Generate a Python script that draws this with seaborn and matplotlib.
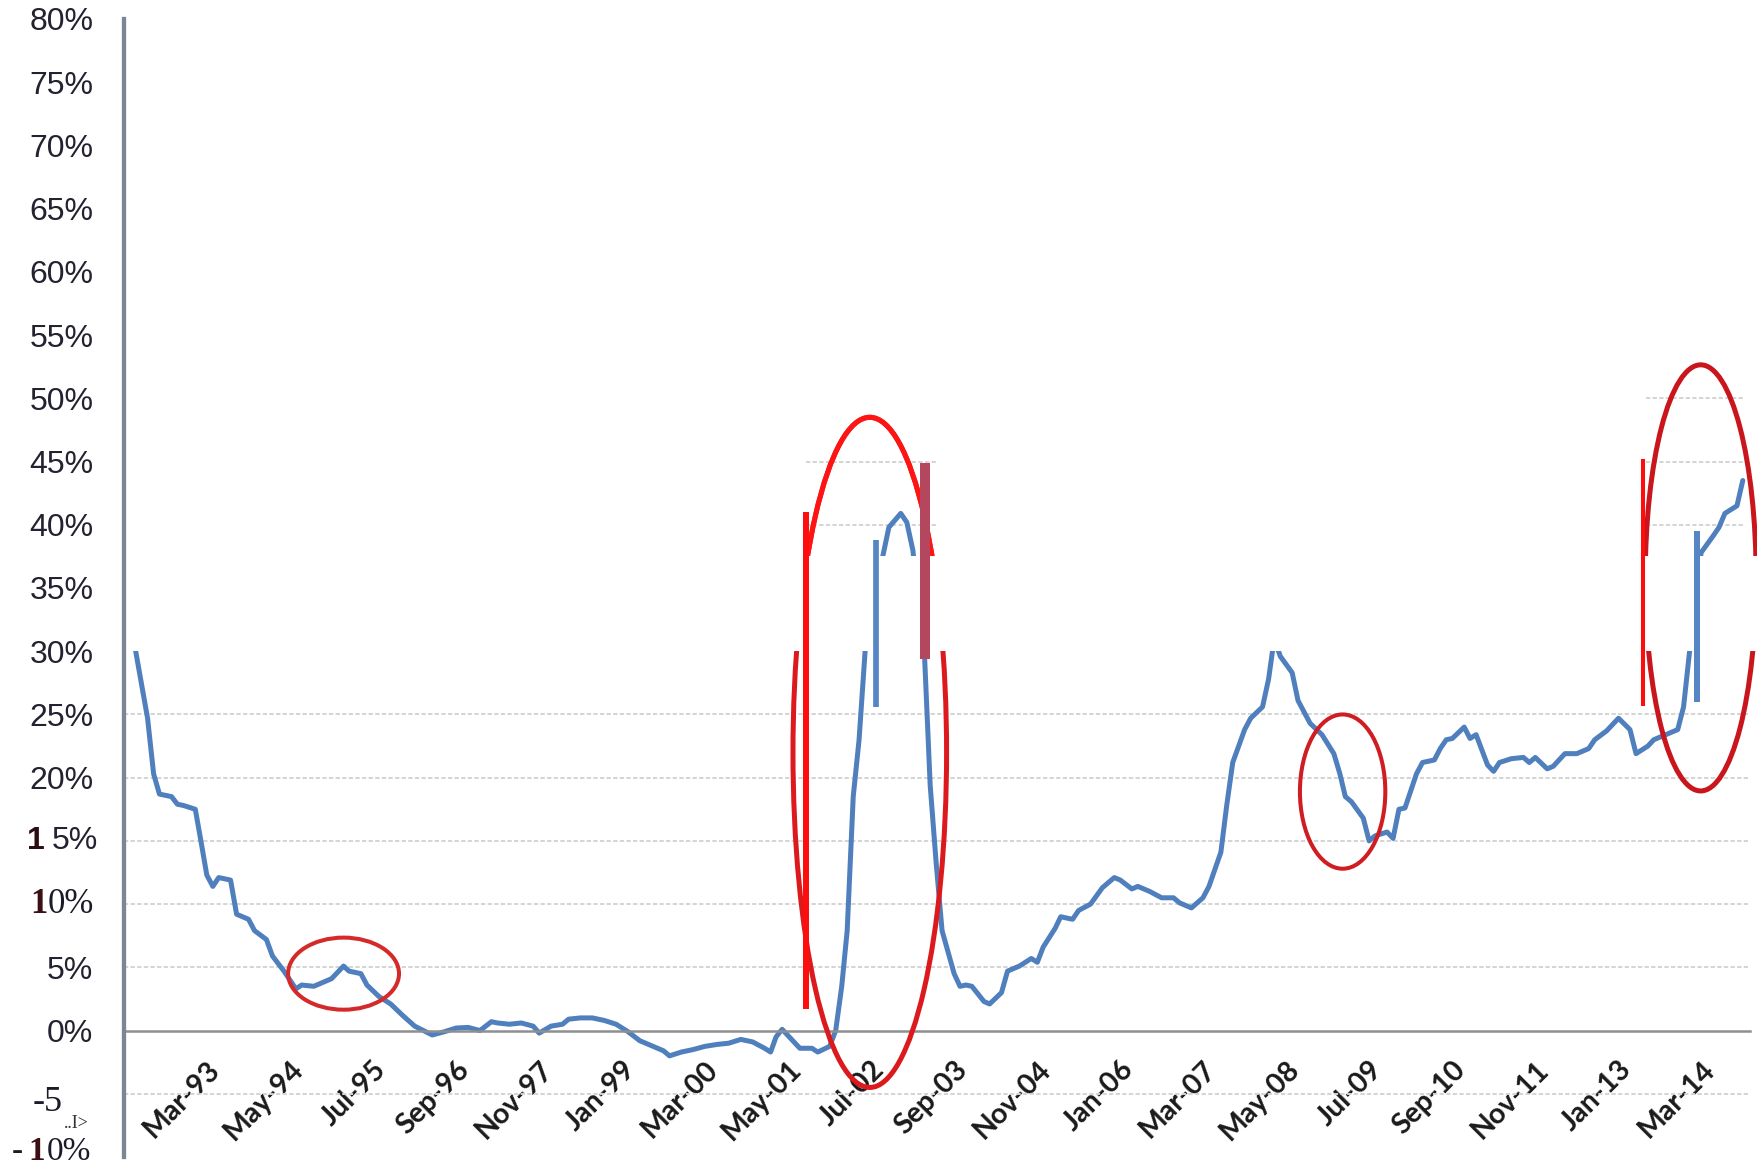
import numpy as np
import pandas as pd
import matplotlib
matplotlib.use("Agg")
import matplotlib.pyplot as plt
import matplotlib.dates as mdates
from matplotlib.patches import Ellipse, Rectangle
import seaborn as sns

# ---------------------------------------------------------------------------
# Series: year-on-year growth (%) by month
# ---------------------------------------------------------------------------
months = [
    "1992-03", "1992-05", "1992-06", "1992-07", "1992-09", "1992-10", "1992-11",
    "1993-01", "1993-02", "1993-03", "1993-04", "1993-05", "1993-07", "1993-08",
    "1993-10", "1993-11", "1994-01", "1994-02", "1994-04", "1994-06", "1994-07",
    "1994-09", "1994-10", "1994-12", "1995-02", "1995-03", "1995-05", "1995-06",
    "1995-08", "1995-10", "1995-12", "1996-02", "1996-05", "1996-07", "1996-09",
    "1996-11", "1997-01", "1997-03", "1997-04", "1997-06", "1997-08", "1997-10",
    "1997-11", "1998-01", "1998-03", "1998-04", "1998-06", "1998-08", "1998-10",
    "1998-12", "1999-02", "1999-04", "1999-06", "1999-08", "1999-09", "1999-11",
    "2000-01", "2000-03", "2000-05", "2000-07", "2000-09", "2000-11", "2001-01",
    "2001-02", "2001-03", "2001-04", "2001-06", "2001-07", "2001-09", "2001-10",
    "2001-12", "2002-01", "2002-02", "2002-03", "2002-04", "2002-05", "2002-06",
    "2002-07", "2002-09", "2002-10", "2002-12", "2003-01", "2003-02", "2003-03",
    "2003-04", "2003-05", "2003-06", "2003-07", "2003-09", "2003-10", "2003-11",
    "2003-12", "2004-02", "2004-03", "2004-05", "2004-06", "2004-08", "2004-10",
    "2004-11", "2004-12", "2005-02", "2005-03", "2005-05", "2005-06", "2005-08",
    "2005-10", "2005-12", "2006-01", "2006-03", "2006-04", "2006-06", "2006-08",
    "2006-10", "2006-11", "2007-01", "2007-03", "2007-04", "2007-06", "2007-07",
    "2007-08", "2007-10", "2007-11", "2008-01", "2008-02", "2008-03", "2008-04",
    "2008-06", "2008-07", "2008-09", "2008-11", "2009-01", "2009-02", "2009-03",
    "2009-04", "2009-06", "2009-07", "2009-08", "2009-10", "2009-11", "2009-12",
    "2010-01", "2010-03", "2010-04", "2010-06", "2010-07", "2010-08", "2010-09",
    "2010-11", "2010-12", "2011-01", "2011-03", "2011-04", "2011-05", "2011-07",
    "2011-09", "2011-10", "2011-11", "2012-01", "2012-02", "2012-04", "2012-06",
    "2012-08", "2012-09", "2012-11", "2013-01", "2013-03", "2013-04", "2013-06",
    "2013-07", "2013-09", "2013-11", "2013-12", "2014-01", "2014-02", "2014-03",
    "2014-05", "2014-06", "2014-07", "2014-08", "2014-09", "2014-10",
]
growth = [
    30.0, 24.7, 20.3, 18.7, 18.5, 17.9, 17.8,
    17.5, 14.8, 12.3, 11.4, 12.1, 11.9, 9.2,
    8.8, 7.9, 7.2, 5.9, 4.7, 3.3, 3.6,
    3.5, 3.7, 4.1, 5.1, 4.7, 4.5, 3.6,
    2.7, 2.1, 1.2, 0.35, -0.35, -0.1, 0.2,
    0.25, 0.0, 0.7, 0.6, 0.5, 0.6, 0.35,
    -0.2, 0.35, 0.5, 0.9, 1.0, 1.0, 0.8,
    0.5, -0.1, -0.8, -1.2, -1.6, -2.0, -1.7,
    -1.5, -1.25, -1.1, -1.0, -0.7, -0.9, -1.4,
    -1.7, -0.5, 0.1, -0.9, -1.4, -1.4, -1.7,
    -1.25, 0.0, 3.5, 7.9, 18.5, 23.0, 30.0,
    34.0, 37.6, 39.8, 40.9, 40.2, 38.0, 34.0,
    30.0, 19.4, 13.2, 7.9, 4.5, 3.5, 3.6,
    3.5, 2.3, 2.1, 3.0, 4.7, 5.1, 5.7,
    5.4, 6.6, 8.1, 9.0, 8.8, 9.5, 10.0,
    11.3, 12.1, 11.9, 11.2, 11.4, 11.0, 10.5,
    10.5, 10.1, 9.7, 10.5, 11.4, 14.1, 17.8,
    21.2, 23.8, 24.7, 25.6, 27.8, 31.0, 29.6,
    28.3, 26.1, 24.3, 23.4, 21.9, 20.3, 18.5,
    18.1, 16.8, 15.0, 15.4, 15.7, 15.2, 17.5,
    17.6, 20.3, 21.2, 21.4, 22.3, 23.0, 23.1,
    24.0, 23.1, 23.4, 21.0, 20.5, 21.2, 21.5,
    21.6, 21.2, 21.6, 20.7, 20.9, 21.9, 21.9,
    22.3, 23.0, 23.7, 24.7, 23.8, 21.9, 22.5,
    23.0, 23.4, 23.8, 25.6, 30.0, 34.0, 37.8,
    39.1, 39.8, 40.9, 41.2, 41.5, 43.5,
]

# axis ticks
x_start, x_end = "1992-01-01", "2014-11-07"
x_tick_dates = pd.date_range("1993-03-01", periods=19, freq="14MS")
y_ticks = list(range(-10, 85, 5))

# highlighted periods: (centre date, width in months, centre %, height %)
circles = [
    ("1995-02-01", 18.7, 4.5, 5.7),
    ("2002-06-25", 25.9, 22.0, 53.0),
    ("2009-02-15", 14.4, 18.9, 12.2),
    ("2014-02-27", 18.7, 35.8, 33.7),
]
# marker bars: (date, bottom %, top %)
bar_dates = ["2001-08-04", "2002-07-28", "2003-04-04", "2013-05-07", "2014-02-10"]
bar_lows = [1.7, 25.6, 29.4, 25.7, 26.0]
bar_highs = [41.0, 38.8, 44.9, 45.2, 39.5]

# ---------------------------------------------------------------------------
sns.set_style("white")
plt.rcParams["font.family"] = ["Liberation Sans", "DejaVu Sans"]

W, H = 1758, 1169
fig = plt.figure(figsize=(W / 100, H / 100), dpi=100)
ax = fig.add_axes([124 / W, 1 - 1157 / H, (1750 - 124) / W, (1157 - 19) / H])

df = pd.DataFrame({"month": pd.to_datetime(months), "growth": growth})
sns.lineplot(data=df, x="month", y="growth", ax=ax, color="#4f7fbd",
             linewidth=3.6, zorder=2.2, solid_joinstyle="round", solid_capstyle="round")

ax.set_xlim(pd.Timestamp(x_start), pd.Timestamp(x_end))
ax.set_ylim(-10, 80)
ax.set_xlabel("")
ax.set_ylabel("")

DAYS_PER_MONTH = 30.44
grid_kw = dict(colors="#d4d4d4", linewidth=1.4, linestyles=(0, (2.2, 1.2)), zorder=1)

# horizontal guide lines
ax.hlines([-5, 5, 10, 15, 20, 25], 0, 1, transform=ax.get_yaxis_transform(), **grid_kw)
ax.hlines([40, 45], pd.Timestamp("2001-08-04"), pd.Timestamp("2003-06-01"), **grid_kw)
ax.hlines([40, 45, 50], pd.Timestamp("2013-05-22"), pd.Timestamp("2014-10-07"), **grid_kw)

# highlight ellipses
circle_colors = ["#d42a2a", "#dc1a1d", "#cf1d22", "#c8161c"]
circle_widths = [2.9, 3.6, 2.9, 3.6]
for (c, wm, cy, h), col, lw in zip(circles, circle_colors, circle_widths):
    cx = mdates.date2num(pd.Timestamp(c))
    e = Ellipse((cx, cy), wm * DAYS_PER_MONTH, h, fill=False, edgecolor=col,
                linewidth=lw, zorder=2.6, clip_on=False)
    ax.add_patch(e)
# brighter upper arc of the 2002 ellipse
c, wm, cy, h = circles[1]
top = Ellipse((mdates.date2num(pd.Timestamp(c)), cy), wm * DAYS_PER_MONTH, h,
              fill=False, edgecolor="#ff1414", linewidth=3.6, zorder=2.7)
ax.add_patch(top)
top.set_clip_path(Rectangle((mdates.date2num(pd.Timestamp("2000-01-01")), 35), 2000, 40,
                            transform=ax.transData))

# blank band between 30% and 37.5%
ax.add_patch(Rectangle((0.003, 30), 1.02, 7.5, transform=ax.get_yaxis_transform(),
                       facecolor="white", edgecolor="none", zorder=3, clip_on=False))

# marker bars
bar_colors = ["#ff0d0d", "#5585c5", "#b4475e", "#ff0d0d", "#5585c5"]
bar_lw = [4.3, 4.1, 7.2, 2.9, 4.3]
for d, lo, hi, col, lw in zip(bar_dates, bar_lows, bar_highs, bar_colors, bar_lw):
    ax.vlines(pd.Timestamp(d), lo, hi, colors=col, linewidth=lw, zorder=4)

# spines
for s in ["top", "right"]:
    ax.spines[s].set_visible(False)
ax.spines["bottom"].set_position(("data", 0))
ax.spines["bottom"].set_color("#8f8f8f")
ax.spines["bottom"].set_linewidth(1.8)
ax.spines["left"].set_color("#7b8794")
ax.spines["left"].set_linewidth(3.1)
ax.spines["left"].set_zorder(5)

# x ticks
ax.set_xticks(x_tick_dates)
ax.set_xticklabels([d.strftime("%b-%y") for d in x_tick_dates], rotation=45,
                   ha="right", va="top", rotation_mode="anchor",
                   fontfamily="Lato", fontweight="bold", fontsize=20.5, color="#1a1a1a")
ax.tick_params(axis="x", direction="out", length=6.5, width=1.1, color="#8c8c8c", pad=12)

# y ticks
special = {15, 10, -5, -10}
ax.set_yticks(y_ticks)
ax.set_yticklabels(["" if v in special else f"{v}%" for v in y_ticks],
                   fontsize=23, color="#222230")
ax.tick_params(axis="y", length=0, pad=22)

ytr = ax.get_yaxis_transform()


def part(txt, y, left_px, dy_px=0, va="center", **kw):
    ax.annotate(txt, xy=(0, y), xycoords=ytr,
                xytext=((left_px - 124) * 0.72, dy_px * 0.72),
                textcoords="offset points", ha="left", va=va,
                annotation_clip=False, **kw)


serif = ["Liberation Serif", "DejaVu Serif"]
part("1", 15, 27, fontsize=23, fontweight="bold", color="#2b0d12")
part("5%", 15, 52, fontsize=23, color="#222230")
part("1", 10, 30, fontsize=25, fontweight="bold", family=serif, color="#3a1015")
part("0%", 10, 48, fontsize=25, family=serif, color="#1a1a28")
part("-5", -5, 33, dy_px=-17, va="baseline", fontsize=26, family=serif, color="#1a1a28")
part("..I>", -5, 64, dy_px=-34, va="baseline", fontsize=13, family=serif, color="#333333")
part("-", -10, 12, dy_px=-10, va="bottom", fontsize=24, family=serif, color="#1a1a28")
part("1", -10, 28, dy_px=-10, va="bottom", fontsize=24, fontweight="bold", family=serif,
     color="#3a1015")
part("0%", -10, 47, dy_px=-10, va="bottom", fontsize=24, family=serif, color="#1a1a28")

fig.savefig("out.png", dpi=100, facecolor="white")
